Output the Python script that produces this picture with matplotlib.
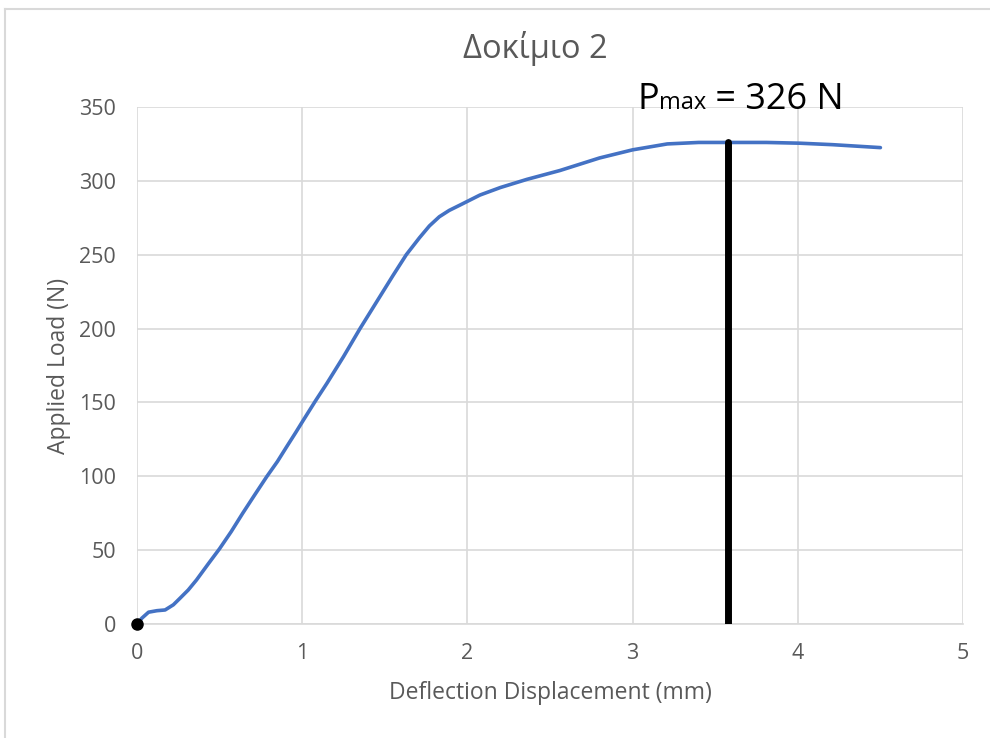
import matplotlib
matplotlib.use("Agg")
import matplotlib.pyplot as plt
from matplotlib.lines import Line2D
from matplotlib.offsetbox import TextArea, HPacker, AnnotationBbox

plt.rcParams['font.family'] = ['Open Sans', 'DejaVu Sans']

# Load-deflection curve of specimen 2
deflection_mm = [0.00, 0.03, 0.07, 0.12, 0.17, 0.22, 0.26, 0.31, 0.36, 0.43, 0.50,
                 0.57, 0.64, 0.71, 0.785, 0.85, 0.906, 0.96, 1.007, 1.08, 1.15,
                 1.25, 1.35, 1.47, 1.55, 1.63, 1.71, 1.77, 1.83, 1.89, 1.955,
                 2.076, 2.20, 2.36, 2.56, 2.80, 3.00, 3.21, 3.40, 3.58, 3.81,
                 4.01, 4.21, 4.50]
load_N = [0.0, 4.0, 8.0, 9.0, 9.5, 13.0, 17.4, 23.0, 29.8, 40.5, 51.0,
          62.5, 75.0, 87.0, 99.7, 110.0, 120.0, 129.5, 138.0, 151.0, 163.0,
          181.0, 200.0, 221.6, 236.0, 250.0, 261.5, 269.5, 275.7, 280.0, 283.6,
          290.4, 295.5, 301.0, 307.0, 315.5, 321.0, 325.0, 326.0, 326.0, 326.0,
          325.5, 324.5, 322.5]
p_max = 326
p_max_deflection = 3.58

title = "Δοκίμιο 2"
x_label = "Deflection Displacement (mm)"
y_label = "Applied Load (N)"
x_ticks = [0, 1, 2, 3, 4, 5]
y_ticks = [0, 50, 100, 150, 200, 250, 300, 350]

text_gray = "#595959"
grid_gray = "#D9D9D9"

fig = plt.figure(figsize=(9.9, 7.38), dpi=100)
ax = fig.add_axes([137/990, 1 - 624/738, (963 - 137)/990, (624 - 107)/738])

ax.plot(deflection_mm, load_N, color="#4472C4", lw=2.6, solid_capstyle='round',
        solid_joinstyle='round', zorder=3)
ax.plot([p_max_deflection, p_max_deflection], [0, p_max], color="black", lw=5,
        solid_capstyle='round', zorder=4)
ax.plot([0], [0], marker='o', color='black', markersize=8, zorder=5, clip_on=False)

ax.set_xlim(0, 5)
ax.set_ylim(0, 350)
ax.set_xticks(x_ticks)
ax.set_yticks(y_ticks)
ax.grid(True, color=grid_gray, lw=1.2)
ax.set_axisbelow(True)
for side in ['top', 'right', 'left']:
    ax.spines[side].set_visible(False)
ax.spines['bottom'].set_color(grid_gray)
ax.spines['bottom'].set_linewidth(1.2)
ax.tick_params(length=0, labelsize=15.5, labelcolor=text_gray)
ax.tick_params(axis='x', pad=14)
ax.tick_params(axis='y', pad=15)

ax.set_xlabel(x_label, fontsize=16.5, color=text_gray, labelpad=12)
ax.set_ylabel(y_label, fontsize=16.5, color=text_gray, labelpad=6)
fig.text(535/990, 1 - 48/738, title, ha='center', va='center', fontsize=23.5,
         color=text_gray)

# P_max label: small "max" sitting on the baseline next to "P"
parts = HPacker(children=[
    TextArea("P", textprops=dict(fontsize=26, color="black")),
    TextArea("max", textprops=dict(fontsize=17, color="black")),
    TextArea(" = %d N" % p_max, textprops=dict(fontsize=26, color="black")),
], align="baseline", pad=0, sep=0)
ab = AnnotationBbox(parts, (p_max_deflection - 0.55, 350), xycoords='data',
                    box_alignment=(0, 0.30), frameon=False, annotation_clip=False)
ax.add_artist(ab)

# chart frame
fig.add_artist(Line2D([5/990, 5/990], [0, 1 - 9/738], transform=fig.transFigure,
                      color="#D9D9D9", lw=1.5))
fig.add_artist(Line2D([5/990, 1], [1 - 9/738, 1 - 9/738], transform=fig.transFigure,
                      color="#D9D9D9", lw=1.5))

fig.savefig("out.png", dpi=100, facecolor="white")
